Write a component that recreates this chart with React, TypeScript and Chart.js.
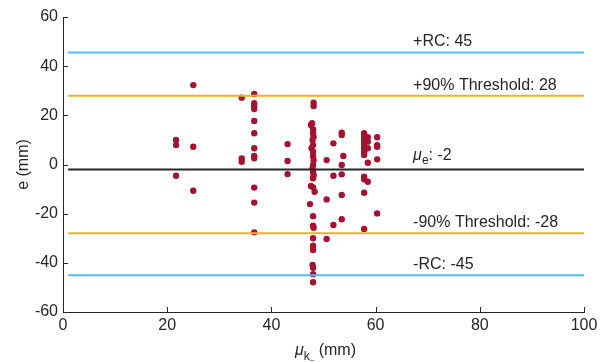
import React, { useEffect, useRef } from "react";
import { Chart, registerables } from "chart.js";

Chart.register(...registerables);

// Scatter data (x = mu_k, y = e)
const xs: number[] = [
  21.7, 21.7, 21.7,
  25, 25, 25,
  34.3, 34.3, 34.3,
  36.7, 36.7, 36.7, 36.7, 36.7, 36.7, 36.7, 36.7, 36.7, 36.7, 36.7, 36.7,
  43.1, 43.1, 43.1,
  48.1, 48.1, 47.8, 47.6, 48.0, 48.0, 48.1, 47.9, 48.0, 47.7, 48.0, 48.0, 48.1, 48.0, 47.9, 48.0, 48.1, 48.0, 47.6, 48.0, 48.3, 47.4, 48.0, 48.0, 48.1, 48.0, 48.0, 48.0, 47.9, 48.0, 48.0, 48.0,
  50.6, 50.6, 50.6,
  51.9, 51.9, 51.9,
  53.5, 53.5, 53.8, 53.5, 53.5, 53.5, 53.5,
  57.8, 57.8, 57.8, 57.8, 57.8, 57.8, 57.8, 57.8, 57.8, 57.8, 57.8, 57.8,
  58.5, 58.5, 58.5, 58.5, 58.5,
  60.3, 60.3, 60.3, 60.3, 60.3,
];
const ys: number[] = [
  10.0, 7.9, -4.6,
  32.3, 7.2, -10.7,
  27.2, 2.5, 1.1,
  28.7, 24.9, 23.8, 22.6, 17.7, 12.7, 6.6, 3.5, 2.5, -9.4, -15.5, -27.6,
  8.3, 1.4, -3.9,
  25.1, 23.8, 16.8, 16.1, 14.3, 12.7, 11.3, 10.0, 7.9, 6.6, 5.2, 3.5, 1.8, -0.2, -1.5, -2.9, -4.3, -5.6, -8.7, -9.3, -11.1, -16.1, -21.0, -24.9, -25.7, -30.0, -33.0, -34.8, -40.9, -42.0, -44.6, -47.9,
  1.8, -14.2, -30.3,
  8.6, -4.6, -24.6,
  12.9, 12.0, 3.5, -0.2, -4.0, -12.4, -22.3,
  12.7, 11.3, 10.3, 9.3, 7.9, 6.6, 5.2, 3.9, -5.0, -6.0, -11.5, -26.2,
  11.1, 9.3, 6.6, 0.7, -7.0,
  11.1, 7.9, 7.2, 2.1, -19.9,
];

// Reference lines
const refValues: number[] = [45.6, 28, -2, -28, -45];
const refColors: string[] = ["#4DBEEE", "#EDB120", "#262626", "#EDB120", "#4DBEEE"];
const refLabels: string[] = ["+RC: 45", "+90% Threshold: 28", "MU", "-90% Threshold: -28", "-RC: -45"];
const refLineStart = 1;
const refLineEnd = 100;
const labelX = 67.2;

const xTicks: number[] = [0, 20, 40, 60, 80, 100];
const yTicks: number[] = [-60, -40, -20, 0, 20, 40, 60];

const TEXT = "#262626";
const FONT = "'Liberation Sans', Arial, sans-serif";

const overlayPlugin = {
  id: "overlay",
  afterDraw(chart: any) {
    const ctx = chart.ctx;
    const xs_ = chart.scales.x;
    const ys_ = chart.scales.y;
    const area = chart.chartArea;
    ctx.save();
    // inward ticks
    ctx.strokeStyle = TEXT;
    ctx.lineWidth = 1;
    ctx.beginPath();
    xTicks.forEach((v) => {
      const px = Math.round(xs_.getPixelForValue(v)) + 0.5;
      ctx.moveTo(px, area.bottom);
      ctx.lineTo(px, area.bottom - 5);
    });
    yTicks.forEach((v) => {
      const py = Math.round(ys_.getPixelForValue(v)) + 0.5;
      ctx.moveTo(area.left, py);
      ctx.lineTo(area.left + 5, py);
    });
    ctx.stroke();

    // reference labels
    ctx.fillStyle = TEXT;
    ctx.textAlign = "left";
    ctx.textBaseline = "alphabetic";
    const lx = xs_.getPixelForValue(labelX);
    refLabels.forEach((lab, i) => {
      const py = ys_.getPixelForValue(refValues[i]) - 6;
      if (lab === "MU") {
        ctx.font = `italic 16px ${FONT}`;
        ctx.fillText("\u03BC", lx, py - 3);
        const w1 = ctx.measureText("\u03BC").width;
        ctx.font = `12px ${FONT}`;
        ctx.fillText("e", lx + w1, py + 1);
        const w2 = ctx.measureText("e").width;
        ctx.font = `16px ${FONT}`;
        ctx.fillText(": -2", lx + w1 + w2, py - 3);
      } else {
        ctx.font = `16px ${FONT}`;
        ctx.fillText(lab, lx, py);
      }
    });

    // y title
    ctx.save();
    ctx.translate(24, (area.top + area.bottom) / 2);
    ctx.rotate(-Math.PI / 2);
    ctx.textAlign = "center";
    ctx.textBaseline = "middle";
    ctx.font = `16px ${FONT}`;
    ctx.fillText("e (mm)", 0, 0);
    ctx.restore();

    // x title: mu_{k_-} (mm)
    ctx.font = `italic 16px ${FONT}`;
    const muW = ctx.measureText("\u03BC").width;
    ctx.font = `12px ${FONT}`;
    const kW = ctx.measureText("k").width;
    ctx.font = `8px ${FONT}`;
    const dW = ctx.measureText("\u2013").width;
    ctx.font = `16px ${FONT}`;
    const restW = ctx.measureText(" (mm)").width;
    const total = muW + kW + dW + restW;
    let cx = (area.left + area.right) / 2 - total / 2 + 2;
    const base = 355;
    ctx.textAlign = "left";
    ctx.font = `italic 16px ${FONT}`;
    ctx.fillText("\u03BC", cx, base);
    cx += muW;
    ctx.font = `12px ${FONT}`;
    ctx.fillText("k", cx, base + 5);
    cx += kW;
    ctx.font = `8px ${FONT}`;
    ctx.fillText("\u2013", cx, base + 7);
    cx += dW;
    ctx.font = `16px ${FONT}`;
    ctx.fillText(" (mm)", cx, base);
    ctx.restore();
  },
};

export default function App() {
  const ref = useRef<HTMLCanvasElement | null>(null);
  useEffect(() => {
    if (!ref.current) return;
    const scatterData = xs.map((x, i) => ({ x, y: ys[i] }));
    const lineSets = refValues.map((v, i) => ({
      type: "line" as const,
      label: refLabels[i],
      data: [
        { x: refLineStart, y: v },
        { x: refLineEnd, y: v },
      ],
      borderColor: refColors[i],
      borderWidth: 2,
      pointRadius: 0,
      showLine: true,
      fill: false,
      order: 0,
    }));
    const chart = new Chart(ref.current, {
      type: "scatter",
      data: {
        datasets: [
          ...lineSets,
          {
            type: "scatter" as const,
            label: "e",
            data: scatterData,
            backgroundColor: "#A2142F",
            borderColor: "#A2142F",
            borderWidth: 0,
            pointRadius: 3.2,
            order: 1,
          },
        ] as any,
      },
      options: {
        responsive: false,
        animation: false,
        layout: { padding: { top: 17, right: 26, left: 0, bottom: 0 } },
        plugins: { legend: { display: false }, tooltip: { enabled: false } },
        scales: {
          x: {
            type: "linear",
            min: 0,
            max: 100,
            afterFit: (s: any) => {
              s.height = 50;
            },
            afterBuildTicks: (s: any) => {
              s.ticks = xTicks.map((v) => ({ value: v }));
            },
            grid: { display: true, drawOnChartArea: false, drawTicks: false },
            border: { display: true, color: TEXT, width: 1 },
            ticks: {
              color: TEXT,
              font: { size: 16, family: FONT },
              padding: 4,
              maxRotation: 0,
            },
          },
          y: {
            type: "linear",
            min: -60,
            max: 60,
            afterFit: (s: any) => {
              s.width = 63;
            },
            afterBuildTicks: (s: any) => {
              s.ticks = yTicks.map((v) => ({ value: v }));
            },
            grid: { display: true, drawOnChartArea: false, drawTicks: false },
            border: { display: true, color: TEXT, width: 1 },
            ticks: {
              color: TEXT,
              font: { size: 16, family: FONT },
              padding: 5,
            },
          },
        },
      },
      plugins: [overlayPlugin],
    });
    return () => chart.destroy();
  }, []);
  return (
    <div style={{ position: "fixed", left: 0, top: 0, width: 610, height: 362, background: "#fff" }}>
      <canvas ref={ref} width={610} height={362} style={{ width: 610, height: 362 }} />
    </div>
  );
}
